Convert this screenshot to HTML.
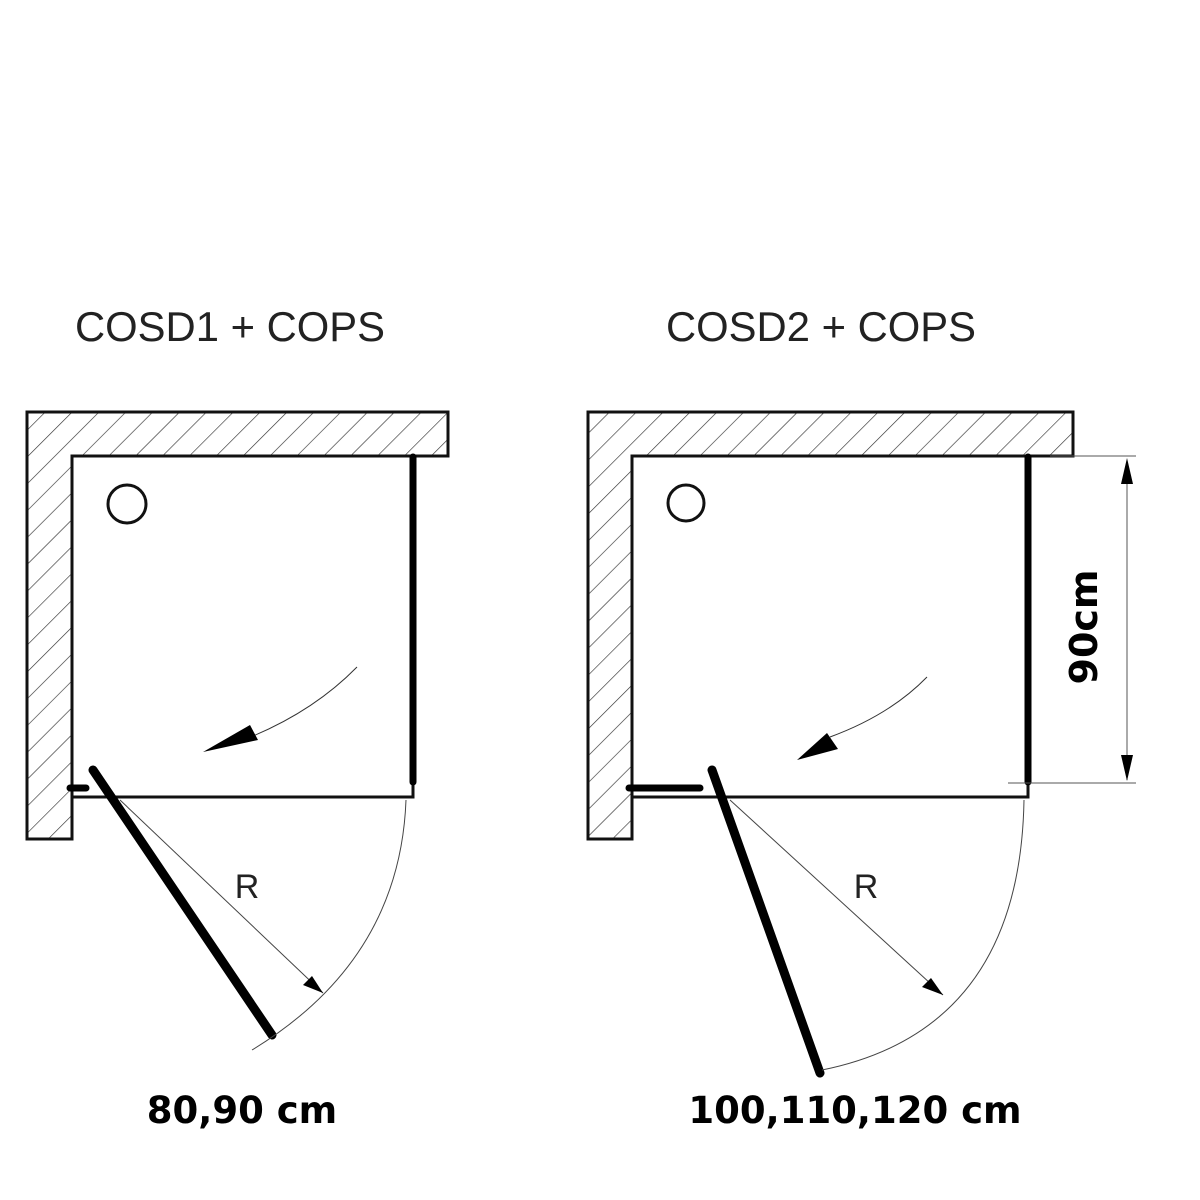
<!DOCTYPE html>
<html><head><meta charset="utf-8"><style>
html,body{margin:0;padding:0;background:#fff;}
svg{display:block;}
</style></head><body>
<svg width="1200" height="1200" viewBox="0 0 1200 1200" xmlns="http://www.w3.org/2000/svg">
<defs>
<pattern id="h" patternUnits="userSpaceOnUse" width="19" height="19" patternTransform="rotate(45)">
<line x1="0" y1="0" x2="0" y2="19" stroke="#333" stroke-width="1.3"/>
</pattern>
</defs>
<g font-family="Liberation Sans, sans-serif" fill="#222">
<text x="230" y="341" font-size="42" text-anchor="middle" textLength="310" lengthAdjust="spacingAndGlyphs">COSD1 + COPS</text>
<text x="821" y="341" font-size="42" text-anchor="middle" textLength="310" lengthAdjust="spacingAndGlyphs">COSD2 + COPS</text>
<text x="247" y="898" font-size="34" text-anchor="middle">R</text>
<text x="866" y="898" font-size="34" text-anchor="middle">R</text>
</g>
<g font-family="DejaVu Sans, Liberation Sans, sans-serif" font-weight="bold" fill="#000">
<text x="242" y="1123" font-size="37" text-anchor="middle">80,90 cm</text>
<text x="855" y="1123" font-size="37" text-anchor="middle">100,110,120 cm</text>
<text transform="translate(1097,627) rotate(-90)" font-size="38" text-anchor="middle">90cm</text>
</g>

<!-- left diagram -->
<path d="M27,412 H448 V456 H72 V839 H27 Z" fill="url(#h)" stroke="#111" stroke-width="3"/>
<rect x="72" y="456" width="341" height="341" fill="#fff" stroke="#111" stroke-width="3"/>
<line x1="413" y1="457" x2="413" y2="782" stroke="#000" stroke-width="7" stroke-linecap="round"/>
<line x1="70" y1="788" x2="86" y2="788" stroke="#000" stroke-width="7" stroke-linecap="round"/>
<circle cx="127" cy="504" r="19" fill="none" stroke="#111" stroke-width="3"/>
<path d="M357,667 Q310,715 238,742" fill="none" stroke="#333" stroke-width="1"/>
<polygon points="203,752 250,725 258,740" fill="#000"/>
<line x1="93" y1="770" x2="272" y2="1035" stroke="#000" stroke-width="9" stroke-linecap="round"/>
<path d="M406,800 Q400,960 252,1050" fill="none" stroke="#444" stroke-width="1"/>
<line x1="120" y1="800" x2="323" y2="993" stroke="#444" stroke-width="1"/>
<polygon points="323,993 303,985 312,976" fill="#000"/>

<!-- right diagram -->
<path d="M588,412 H1073 V456 H632 V839 H588 Z" fill="url(#h)" stroke="#111" stroke-width="3"/>
<rect x="632" y="456" width="396" height="341" fill="#fff" stroke="#111" stroke-width="3"/>
<line x1="1028" y1="457" x2="1028" y2="782" stroke="#000" stroke-width="7" stroke-linecap="round"/>
<line x1="629" y1="788" x2="700" y2="788" stroke="#000" stroke-width="7" stroke-linecap="round"/>
<circle cx="686" cy="503" r="18" fill="none" stroke="#111" stroke-width="3"/>
<path d="M927,677 Q890,715 830,737" fill="none" stroke="#333" stroke-width="1"/>
<polygon points="797,760 827,733 838,749" fill="#000"/>
<line x1="712" y1="770" x2="820" y2="1073" stroke="#000" stroke-width="9" stroke-linecap="round"/>
<path d="M1024,800 Q1020,1030 822,1070" fill="none" stroke="#444" stroke-width="1"/>
<line x1="730" y1="800" x2="943" y2="995" stroke="#444" stroke-width="1"/>
<polygon points="943,995 922,987 931,978" fill="#000"/>
<line x1="1050" y1="456" x2="1136" y2="456" stroke="#555" stroke-width="1"/>
<line x1="1008" y1="783" x2="1136" y2="783" stroke="#555" stroke-width="1"/>
<line x1="1127" y1="460" x2="1127" y2="780" stroke="#555" stroke-width="1"/>
<polygon points="1127,458 1121,484 1133,484" fill="#000"/>
<polygon points="1127,781 1121,755 1133,755" fill="#000"/>
</svg>
</body></html>
